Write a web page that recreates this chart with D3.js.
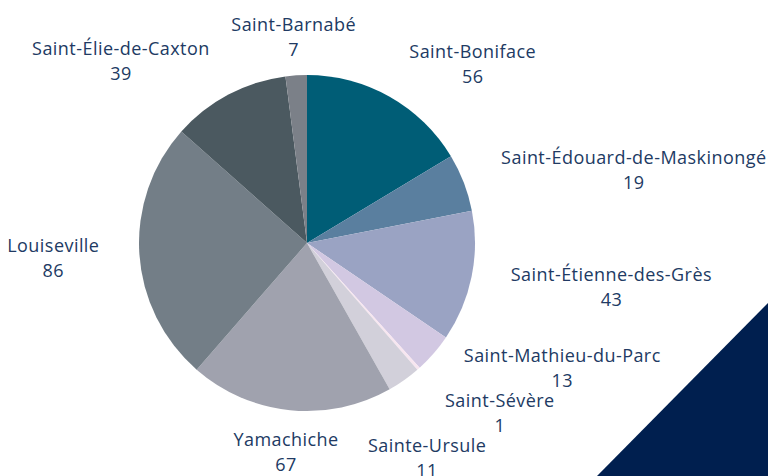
<!DOCTYPE html>
<html>
<head>
<meta charset="utf-8">
<script src="https://cdn.jsdelivr.net/npm/d3@7"></script>
<style>
  html, body { margin: 0; padding: 0; background: #fff; }
  svg { display: block; }
</style>
</head>
<body>
<div id="chart"></div>
<script>
var width = 768,
    height = 476;

var municipalities = ["Saint-Boniface", "Saint-Édouard-de-Maskinongé", "Saint-Étienne-des-Grès",
  "Saint-Mathieu-du-Parc", "Saint-Sévère", "Sainte-Ursule", "Yamachiche", "Louiseville",
  "Saint-Élie-de-Caxton", "Saint-Barnabé"];
var counts = [56, 19, 43, 13, 1, 11, 67, 86, 39, 7];
var sliceColors = ["#005d76", "#5a7f9f", "#9aa3c3", "#d2c8e2", "#f7e6f0",
  "#d2d0da", "#a0a2ae", "#737e87", "#4b5960", "#7b8088"];

var cx = 307, cy = 243, radius = 168, labelRadius = 208;
var textColor = "#213a63";
var lineGap = 45;
var topBottom = 195; // labels beyond this vertical offset are centred

var data = municipalities.map(function(m, i) { return {name: m, value: counts[i]}; });

var svg = d3.select("#chart")
    .append("svg")
    .attr("width", width)
    .attr("height", height);

// dark triangle in the corner
svg.append("path")
    .attr("d", d3.line()([[597, height], [width, height], [width, 303]]) + "Z")
    .attr("fill", "#001f4f");

var pie = d3.pie().sort(null).value(function(d) { return d.value; });
var arcs = pie(data);
var arc = d3.arc().innerRadius(0).outerRadius(radius);

var g = svg.append("g").attr("transform", "translate(" + cx + "," + cy + ")");

g.selectAll("path.slice")
    .data(arcs)
    .enter().append("path")
    .attr("class", "slice")
    .attr("d", arc)
    .attr("fill", function(d, i) { return sliceColors[i]; });

// label anchors on a circle outside the pie
var labels = arcs.map(function(d) {
  var a = (d.startAngle + d.endAngle) / 2;
  return {
    name: d.data.name,
    value: d.data.value,
    x: labelRadius * Math.sin(a),
    y: -labelRadius * Math.cos(a),
    right: Math.sin(a) >= 0
  };
});

// push overlapping side labels apart (top/bottom centred labels are left alone)
[true, false].forEach(function(side) {
  var grp = labels.filter(function(l) { return l.right === side && Math.abs(l.y) <= topBottom; })
      .sort(function(a, b) { return a.y - b.y; });
  var i = 0;
  while (i < grp.length) {
    var cluster = [grp[i]];
    var j = i + 1;
    while (j < grp.length && grp[j].y - cluster[cluster.length - 1].y < lineGap) {
      cluster.push(grp[j]);
      j++;
    }
    if (cluster.length > 1) {
      var pushes = [], prev = cluster[0].y;
      cluster.forEach(function(l, k) {
        var ny = k === 0 ? l.y : Math.max(l.y, prev + lineGap);
        pushes.push(ny - l.y);
        l.y = ny;
        prev = ny;
      });
      var shift = d3.mean(pushes) / 2;
      cluster.forEach(function(l) { l.y -= shift; });
    }
    i = j;
  }
});

var lbl = g.selectAll("text.label")
    .data(labels)
    .enter().append("text")
    .attr("class", "label")
    .attr("x", function(d) { return d.x; })
    .attr("y", function(d) { return d.y; })
    .attr("fill", textColor)
    .style("font-family", "'Open Sans', sans-serif")
    .style("font-size", "18px")
    .style("letter-spacing", "0.45px")
    .attr("text-anchor", function(d) {
      if (Math.abs(d.y) > topBottom) return "middle";
      return d.right ? "start" : "end";
    });

lbl.append("tspan")
    .attr("x", function(d) { return d.x; })
    .attr("dy", "-0.22em")
    .text(function(d) { return d.name; });

lbl.append("tspan")
    .attr("x", function(d) { return d.x; })
    .attr("dy", "1.38em")
    .text(function(d) { return d.value; });

// value line is centred under the name
lbl.each(function(d) {
  var t = d3.select(this);
  var w = t.select("tspan").node().getComputedTextLength();
  var anchor = t.attr("text-anchor");
  var off = anchor === "start" ? w / 2 : anchor === "end" ? -w / 2 : 0;
  t.selectAll("tspan").attr("x", d.x + off);
  t.attr("text-anchor", "middle");
});
</script>
</body>
</html>
